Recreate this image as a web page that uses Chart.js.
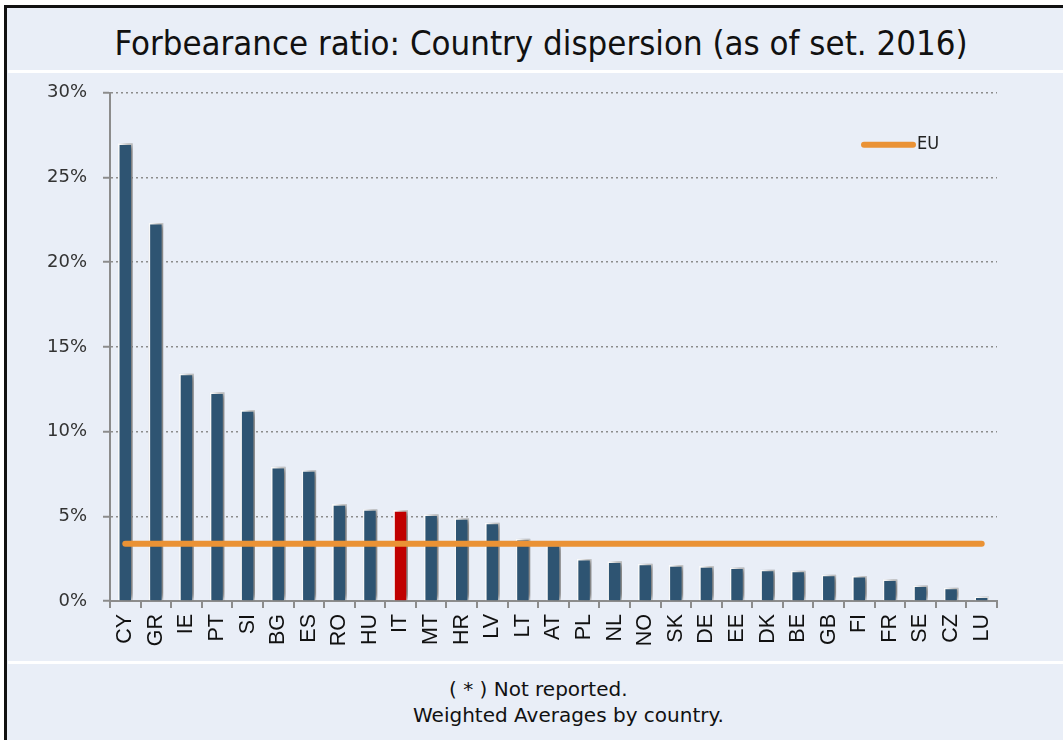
<!DOCTYPE html>
<html>
<head>
<meta charset="utf-8">
<script src="https://cdn.jsdelivr.net/npm/chart.js@4.4.1/dist/chart.umd.min.js"></script>
<style>
  html, body { margin:0; padding:0; }
  body { width:1063px; height:740px; background:#ffffff; position:relative; overflow:hidden; font-family:"DejaVu Sans", sans-serif; }
  #frame { position:absolute; left:4px; top:5px; width:1070px; height:760px; border-left:3px solid #111; border-top:3px solid #111; background:#E9EEF7; }
  #title { position:absolute; left:0; top:0; width:1082px; height:70px; line-height:87px; text-align:center; font-family:"DejaVu Sans Condensed","DejaVu Sans",sans-serif; font-size:34.5px; color:#111; }
  .sep { position:absolute; left:8px; width:1060px; height:3px; background:#fff; }
  #wrap { position:absolute; left:0; top:66px; width:1063px; height:594px; }
  .foot { position:absolute; font-size:20px; color:#111; white-space:nowrap; }
</style>
</head>
<body>
<div id="frame"></div>
<div id="title">Forbearance ratio: Country dispersion (as of set. 2016)</div>
<div class="sep" style="top:70px"></div>
<div class="sep" style="top:661px"></div>
<div id="wrap"><canvas id="c" width="1063" height="594"></canvas></div>
<div class="foot" style="left:449px; top:677px;">( * ) Not reported.</div>
<div class="foot" style="left:413px; top:703px;">Weighted Averages by country.</div>
<script>
const categories = ["CY","GR","IE","PT","SI","BG","ES","RO","HU","IT","MT","HR","LV","LT","AT","PL","NL","NO","SK","DE","EE","DK","BE","GB","FI","FR","SE","CZ","LU"];
const forbearance = [27.0,22.3,13.4,12.3,11.25,7.9,7.7,5.7,5.4,5.35,5.1,4.87,4.6,3.65,3.3,2.46,2.32,2.18,2.1,2.04,1.96,1.83,1.77,1.53,1.46,1.26,0.9,0.77,0.25];
const euAverage = 3.38;
const euLine = categories.map(() => euAverage);
const yTicks = [0,5,10,15,20,25,30];

const barColors = categories.map(c => c === "IT" ? "#C00000" : "#2E5472");

const shadowPlugin = {
  id: 'barShadow',
  beforeDatasetDraw(chart, args) {
    if (args.index === 0) {
      const ctx = chart.ctx;
      ctx.save();
      ctx.shadowColor = 'rgba(0,0,0,0.55)';
      ctx.shadowBlur = 7;
      ctx.shadowOffsetX = 5;
      ctx.shadowOffsetY = -1;
    }
  },
  afterDatasetDraw(chart, args) {
    if (args.index === 0) chart.ctx.restore();
  }
};

const legendPlugin = {
  id: 'euLegend',
  afterDraw(chart) {
    const ds = chart.data.datasets[1];
    const ctx = chart.ctx;
    const y = chart.chartArea.top + 52;
    ctx.save();
    ctx.strokeStyle = ds.borderColor;
    ctx.lineWidth = 6;
    ctx.lineCap = 'round';
    ctx.beginPath();
    ctx.moveTo(864, y);
    ctx.lineTo(913, y);
    ctx.stroke();
    ctx.fillStyle = '#222';
    ctx.font = '18px "DejaVu Sans Condensed", "DejaVu Sans", sans-serif';
    ctx.textBaseline = 'middle';
    ctx.fillText(ds.label, 917, y);
    ctx.restore();
  }
};

new Chart(document.getElementById('c'), {
  data: {
    labels: categories,
    datasets: [
      {
        type: 'bar',
        label: 'Forbearance ratio',
        data: forbearance,
        backgroundColor: barColors,
        borderColor: '#ffffff',
        borderWidth: 1.6,
        barThickness: 14,
        order: 2
      },
      {
        type: 'line',
        label: 'EU',
        data: euLine,
        borderColor: '#EA9235',
        borderWidth: 6,
        borderCapStyle: 'round',
        pointRadius: 0,
        fill: false,
        order: 1
      }
    ]
  },
  options: {
    responsive: false,
    animation: false,
    devicePixelRatio: 1,
    layout: { padding: { top: 12, right: 66, left: 0, bottom: 0 } },
    plugins: { legend: { display: false }, tooltip: { enabled: false }, title: { display: false } },
    scales: {
      x: {
        offset: true,
        grid: { display: true, drawOnChartArea: false, drawTicks: true, tickLength: 7, color: '#8c8c8c', lineWidth: 2, offset: true },
        border: { display: true, color: '#8c8c8c', width: 2 },
        ticks: { minRotation: 90, maxRotation: 90, autoSkip: false, padding: 6, color: '#111', font: { family: 'Liberation Sans', size: 21.5 } },
        afterFit(scale) { scale.height = 59; }
      },
      y: {
        min: 0, max: 30,
        afterBuildTicks(scale) { scale.ticks = yTicks.map(v => ({ value: v })); },
        grid: { color: '#8c8c8c', lineWidth: 1.5, tickBorderDash: [], tickLength: 7, tickColor: '#8c8c8c', tickWidth: 2 },
        border: { display: true, color: '#8c8c8c', width: 2, dash: [2, 3] },
        ticks: { padding: 16, color: '#333', font: { family: 'DejaVu Sans', size: 18 }, callback: v => v + '%' },
        afterFit(scale) { scale.width = 110; }
      }
    }
  },
  plugins: [shadowPlugin, legendPlugin]
});
</script>
</body>
</html>
